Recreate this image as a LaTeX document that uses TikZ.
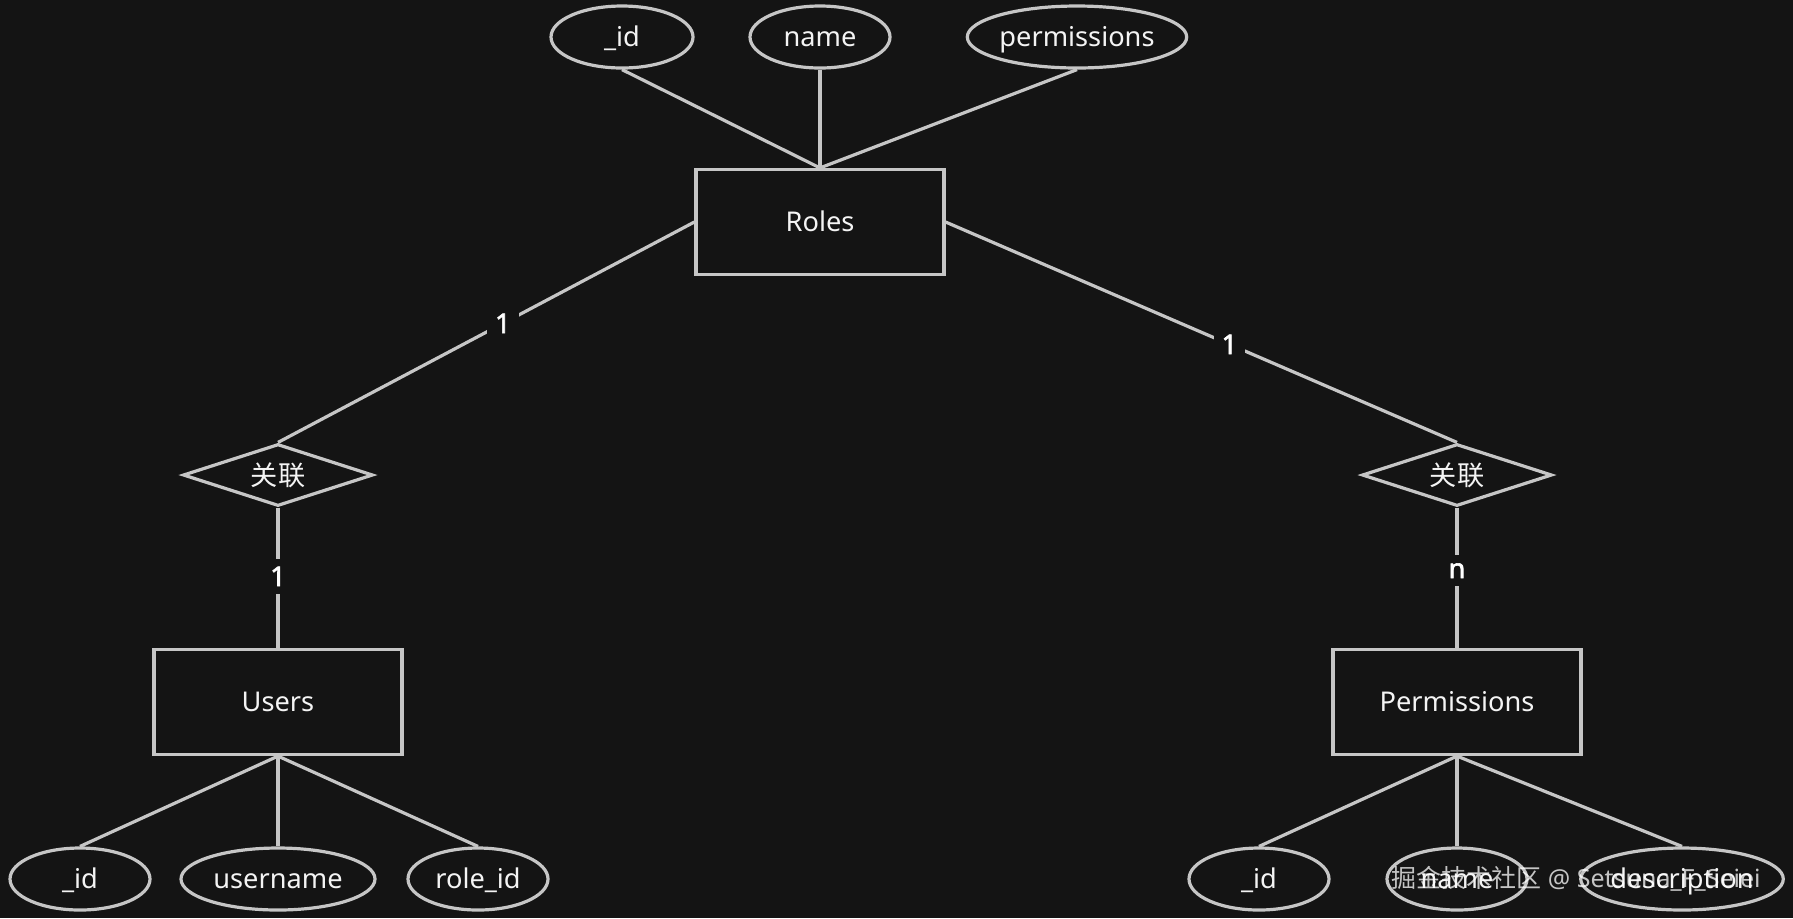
\documentclass[tikz,border=0pt]{standalone}
\usepackage{fontspec}
\setmainfont{Noto Sans}
\newfontfamily\cjk{Noto Sans CJK SC}
\newfontfamily\cardfont{Noto Sans}[FakeBold=2.2]
\usetikzlibrary{shapes.geometric}
\definecolor{bg}{HTML}{141414}
\definecolor{ln}{HTML}{C6C6C6}
\definecolor{tx}{HTML}{F4F4F4}
\begin{document}
\begin{tikzpicture}[x=0.5pt,y=-0.5pt,
  every node/.style={text=tx,font=\fontsize{13.6}{16}\selectfont},
  entity/.style={draw=ln,line width=1.6pt,rectangle,minimum width=124pt,minimum height=52.5pt,fill=bg,text height=11pt,text depth=1.5pt},
  attr/.style={draw=ln,line width=1.6pt,ellipse,minimum height=31pt,inner sep=0pt,fill=bg,text height=11pt,text depth=1.5pt},
  rel/.style={draw=ln,line width=1.6pt,diamond,aspect=3,minimum width=95pt,minimum height=31pt,inner sep=0pt,fill=bg},
  conn/.style={draw=ln,line width=1.6pt},
  card/.style={fill=bg,text=white,font=\cardfont\fontsize{13.6}{16}\selectfont,inner sep=4pt}]
\fill[bg] (0,0) rectangle (1793,918);
\useasboundingbox (0,0) rectangle (1793,918);

% entities
\node[entity] (roles) at (820,222) {Roles};
\node[entity] (users) at (278,702) {Users};
\node[entity] (perms) at (1457,702) {Permissions};

% relationships
\node[rel] (rel1) at (278,475) {\cjk 关联};
\node[rel] (rel2) at (1457,475) {\cjk 关联};

% Roles attributes
\node[attr,minimum width=71pt] (ra1) at (622,37) {\_id};
\node[attr,minimum width=70pt] (ra2) at (820,37) {name};
\node[attr,minimum width=109pt] (ra3) at (1077,37) {permissions};

% Users attributes
\node[attr,minimum width=70pt] (ua1) at (80,879) {\_id};
\node[attr,minimum width=97pt] (ua2) at (278,879) {username};
\node[attr,minimum width=70pt] (ua3) at (478,879) {role\_id};

% Permissions attributes
\node[attr,minimum width=70pt] (pa1) at (1259,879) {\_id};
\node[attr,minimum width=70pt] (pa2) at (1457,879) {name};
\node[attr,minimum width=97pt] (pa3) at (1682,879) {description};

% attribute connectors
\foreach \a in {ra1,ra2,ra3} \draw[conn] (\a.south) -- (roles.north);
\foreach \a in {ua1,ua2,ua3} \draw[conn] (users.south) -- (\a.north);
\foreach \a in {pa1,pa2,pa3} \draw[conn] (perms.south) -- (\a.north);

% relationship connectors
\draw[conn] (roles.west) -- node[card,pos=0.46] {1} (rel1.north);
\draw[conn] (roles.east) -- node[card,pos=0.555] {1} (rel2.north);
\draw[conn] (rel1.south) -- node[card,pos=0.49] {1} (users.north);
\draw[conn] (rel2.south) -- node[card,pos=0.45] {n} (perms.north);

% watermark
\node[text=white,opacity=0.75,font=\fontsize{12.5}{15}\selectfont] (wm) at (1576,879) {\cjk 掘金技术社区\rmfamily\ @ Setsuna\_F\_Seiei};
\end{tikzpicture}
\end{document}
